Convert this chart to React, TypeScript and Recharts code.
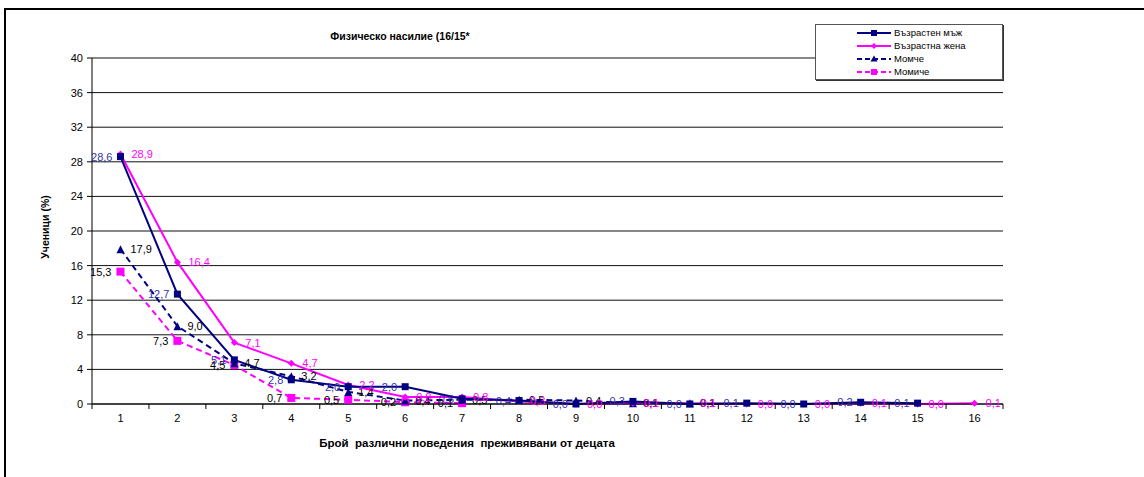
import { LineChart, Line, XAxis, YAxis, CartesianGrid, LabelList } from "recharts";

const CATEGORIES = [1, 2, 3, 4, 5, 6, 7, 8, 9, 10, 11, 12, 13, 14, 15, 16];
const X_TICKS = [0.5, 1, 1.5, 2, 2.5, 3, 3.5, 4, 4.5, 5, 5.5, 6, 6.5, 7, 7.5, 8, 8.5, 9, 9.5, 10, 10.5, 11, 11.5, 12, 12.5, 13, 13.5, 14, 14.5, 15, 15.5, 16, 16.5];
const Y_TICKS = [0, 4, 8, 12, 16, 20, 24, 28, 32, 36, 40];

const MAN = [28.6, 12.7, 5.1, 2.8, 2.0, 2.0, 0.6, 0.4, 0.0, 0.3, 0.0, 0.1, 0.0, 0.2, 0.1, null];
const WOMAN = [28.9, 16.4, 7.1, 4.7, 2.2, 0.8, 0.8, 0.3, 0.0, 0.1, 0.1, 0.0, 0.0, 0.1, 0.0, 0.1];
const BOY = [17.9, 9.0, 4.7, 3.2, 1.4, 0.4, 0.5, 0.5, 0.4, 0.1, 0.1, null, null, null, null, null];
const GIRL = [15.3, 7.3, 4.5, 0.7, 0.5, 0.2, 0.1, null, null, null, null, null, null, null, null, null];

const NAVY = "#000080";
const MAGENTA = "#FF00FF";
const FONT = "'Liberation Sans', Arial, sans-serif";

const data = CATEGORIES.map((c, i) => ({
  x: c,
  man: MAN[i],
  woman: WOMAN[i],
  boy: BOY[i],
  girl: GIRL[i],
}));

const fmt = (v: number) => v.toFixed(1).replace(".", ",");

function makeLabel(color: string, side: "left" | "right", gap: number) {
  return (props: any) => {
    const { x, y, value, index } = props;
    if (value === null || value === undefined) return null;
    return (
      <text
        key={`l-${index}`}
        x={side === "left" ? x - gap : x + gap}
        y={y}
        dy={4}
        textAnchor={side === "left" ? "end" : "start"}
        fill={color}
        fontSize={11}
        fontFamily={FONT}
      >
        {fmt(value)}
      </text>
    );
  };
}

function SquareDot(size: number, color: string) {
  return (props: any) => {
    const { cx, cy, index, value } = props;
    if (value === null || value === undefined || cx == null || cy == null) return <g key={`d-${index}`} />;
    return <rect key={`d-${index}`} x={cx - size / 2} y={cy - size / 2} width={size} height={size} fill={color} />;
  };
}

function DiamondDot(size: number, color: string) {
  return (props: any) => {
    const { cx, cy, index, value } = props;
    if (value === null || value === undefined || cx == null || cy == null) return <g key={`d-${index}`} />;
    const h = size / 2;
    return <polygon key={`d-${index}`} points={`${cx},${cy - h} ${cx + h},${cy} ${cx},${cy + h} ${cx - h},${cy}`} fill={color} />;
  };
}

function TriangleDot(size: number, color: string) {
  return (props: any) => {
    const { cx, cy, index, value } = props;
    if (value === null || value === undefined || cx == null || cy == null) return <g key={`d-${index}`} />;
    const h = size / 2;
    return <polygon key={`d-${index}`} points={`${cx},${cy - h} ${cx + h},${cy + h} ${cx - h},${cy + h}`} fill={color} />;
  };
}

// labels at whole numbers, tick marks at the category boundaries
function XTick(props: any) {
  const { x, y, payload } = props;
  const v = payload.value;
  if (Number.isInteger(v)) {
    return (
      <text x={x} y={y + 18} textAnchor="middle" fill="#000" fontSize={11} fontFamily={FONT}>
        {v}
      </text>
    );
  }
  return <line x1={x} y1={y} x2={x} y2={y + 5} stroke="#000" strokeWidth={1} />;
}

const LEGEND_ITEMS = [
  { name: "Възрастен мъж", color: NAVY, dash: undefined, marker: "square" },
  { name: "Възрастна жена", color: MAGENTA, dash: undefined, marker: "diamond" },
  { name: "Момче", color: NAVY, dash: "5 3", marker: "triangle" },
  { name: "Момиче", color: MAGENTA, dash: "5 3", marker: "square" },
];

function LegendBox() {
  return (
    <div
      style={{
        position: "absolute",
        left: 815,
        top: 24,
        width: 188,
        height: 56,
        border: "1px solid #555",
        boxShadow: "1px 1px 0 #333",
        background: "#fff",
        fontFamily: FONT,
        fontSize: 9.5,
        paddingTop: 1,
        boxSizing: "border-box",
      }}
    >
      {LEGEND_ITEMS.map((it) => (
        <div key={it.name} style={{ display: "flex", alignItems: "center", height: 13 }}>
          <svg width={78} height={12}>
            <line x1={41} y1={6} x2={75} y2={6} stroke={it.color} strokeWidth={2} strokeDasharray={it.dash} />
            {it.marker === "square" && <rect x={55} y={3} width={6} height={6} fill={it.color} />}
            {it.marker === "diamond" && <polygon points="58,3 61,6 58,9 55,6" fill={it.color} />}
            {it.marker === "triangle" && <polygon points="58,2.5 61.5,8.5 54.5,8.5" fill={it.color} />}
          </svg>
          <span style={{ color: "#000" }}>{it.name}</span>
        </div>
      ))}
    </div>
  );
}

export default function App() {
  return (
    <div style={{ position: "absolute", left: 0, top: 0, width: 1144, height: 477, background: "#fff", overflow: "hidden" }}>
      <div
        style={{
          position: "absolute",
          left: 4,
          top: 8,
          width: 1200,
          height: 600,
          borderLeft: "2px solid #000",
          borderTop: "2px solid #000",
        }}
      />
      <div
        style={{
          position: "absolute",
          left: 250,
          top: 30,
          width: 300,
          textAlign: "center",
          fontFamily: FONT,
          fontSize: 10.5,
          fontWeight: "bold",
        }}
      >
        Физическо насилие (16/15*
      </div>
      <div
        style={{
          position: "absolute",
          left: 267,
          top: 437,
          width: 400,
          textAlign: "center",
          fontFamily: FONT,
          fontSize: 11.5,
          fontWeight: "bold",
          whiteSpace: "pre",
        }}
      >
        {"Брой  различни поведения  преживявани от децата"}
      </div>
      <div
        style={{
          position: "absolute",
          left: 45,
          top: 227,
          transform: "translate(-50%, -50%) rotate(-90deg)",
          fontFamily: FONT,
          fontSize: 10.5,
          fontWeight: "bold",
          whiteSpace: "nowrap",
        }}
      >
        Ученици (%)
      </div>
      <div style={{ position: "absolute", left: 0, top: 0 }}>
        <LineChart width={1144} height={477} data={data} margin={{ top: 58, right: 141, bottom: 0, left: 0 }}>
          <CartesianGrid vertical={false} stroke="#111" strokeWidth={1} />
          <XAxis
            dataKey="x"
            type="number"
            domain={[0.5, 16.5]}
            ticks={X_TICKS}
            interval={0}
            height={73}
            tickSize={0}
            tickMargin={0}
            tickLine={false}
            tick={<XTick />}
            axisLine={{ stroke: "#000" }}
          />
          <YAxis
            domain={[0, 40]}
            ticks={Y_TICKS}
            interval={0}
            width={92}
            tickSize={5}
            tickMargin={4}
            axisLine={{ stroke: "#000" }}
            tickLine={{ stroke: "#000" }}
            tick={{ fill: "#000", fontSize: 11, fontFamily: FONT }}
          />
          <Line
            dataKey="girl"
            name="Момиче"
            stroke={MAGENTA}
            strokeWidth={2}
            strokeDasharray="6 4"
            dot={SquareDot(8, MAGENTA)}
            activeDot={false}
            isAnimationActive={false}
          >
            <LabelList dataKey="girl" content={makeLabel("#000", "left", 9)} />
          </Line>
          <Line
            dataKey="boy"
            name="Момче"
            stroke={NAVY}
            strokeWidth={2}
            strokeDasharray="6 4"
            dot={TriangleDot(8, NAVY)}
            activeDot={false}
            isAnimationActive={false}
          >
            <LabelList dataKey="boy" content={makeLabel("#000", "right", 10)} />
          </Line>
          <Line
            dataKey="woman"
            name="Възрастна жена"
            stroke={MAGENTA}
            strokeWidth={2}
            dot={DiamondDot(7, MAGENTA)}
            activeDot={false}
            isAnimationActive={false}
          >
            <LabelList dataKey="woman" content={makeLabel(MAGENTA, "right", 11)} />
          </Line>
          <Line
            dataKey="man"
            name="Възрастен мъж"
            stroke={NAVY}
            strokeWidth={2}
            dot={SquareDot(7, NAVY)}
            activeDot={false}
            isAnimationActive={false}
          >
            <LabelList dataKey="man" content={makeLabel("#3333AA", "left", 8)} />
          </Line>
        </LineChart>
      </div>
      <LegendBox />
    </div>
  );
}
